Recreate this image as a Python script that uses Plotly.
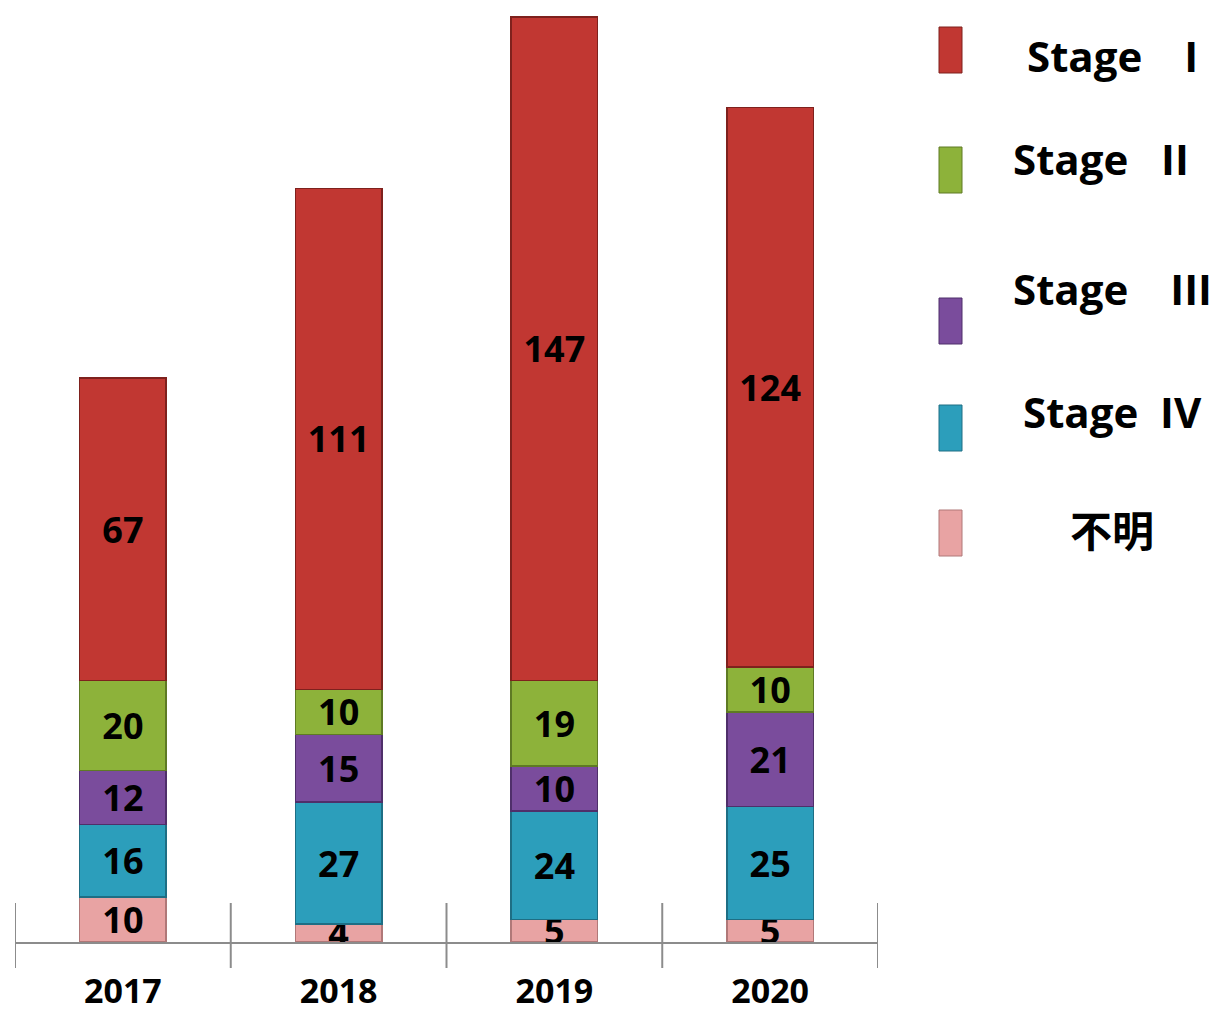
import plotly.graph_objects as go

years = ["2017", "2018", "2019", "2020"]
unknown = [10, 4, 5, 5]
stage4 = [16, 27, 24, 25]
stage3 = [12, 15, 10, 21]
stage2 = [20, 10, 19, 10]
stage1 = [67, 111, 147, 124]

series_names = ["不明", "Stage IV", "Stage III", "Stage II", "Stage I"]
series_values = [unknown, stage4, stage3, stage2, stage1]
legend_labels = {
    "Stage I": "Stage\u3000I",
    "Stage II": "Stage\u00a0\u00a0\u00a0II",
    "Stage III": "Stage\u3000III",
    "Stage IV": "Stage\u00a0\u00a0IV",
    "不明": "不明",
}
colors = ["#E8A3A3", "#2C9EBB", "#7A4C9C", "#8DB23A", "#C13732"]
edge_colors = ["#B07878", "#1E6E84", "#4F2F6A", "#5E7A24", "#7E211D"]

FONT = "Open Sans, DejaVu Sans, sans-serif"
CJK = "Noto Sans CJK JP, Noto Sans CJK SC, sans-serif"

W, H = 1218, 1012
PLOT_X0, PLOT_X1 = 15, 878
PLOT_Y0, BASE_Y = 10, 942
L = PLOT_X0
R = W - PLOT_X1
T = PLOT_Y0
B = H - BASE_Y
PX_PER_UNIT = 4.512
plot_h = H - T - B
plot_w = W - L - R
ymax = plot_h / PX_PER_UNIT

fig = go.Figure()
for name, vals, c, ec in zip(series_names, series_values, colors, edge_colors):
    fig.add_trace(go.Bar(
        x=years, y=vals, name=name,
        marker=dict(color=c, line=dict(color=ec, width=1.5)),
        text=vals, texttemplate="%{text}", textposition="inside",
        insidetextanchor="middle", textangle=0,
        textfont=dict(family=FONT, size=36, color="black", weight="bold"),
        showlegend=False,
    ))


def px_x(p):
    return (p - PLOT_X0) / plot_w


def px_y(q):
    return (BASE_Y - q) / plot_h


shapes = []
# category boundary ticks crossing the axis
for i in range(len(years) + 1):
    shapes.append(dict(type="line", xref="x", yref="paper",
                       x0=i - 0.5, x1=i - 0.5,
                       y0=px_y(968), y1=px_y(903),
                       line=dict(color="#8C8C8C", width=2)))

# legend (icons + labels), top to bottom
legend_order = ["Stage I", "Stage II", "Stage III", "Stage IV", "不明"]
icon_tops = [27, 147, 298, 405, 510]
text_pos = [(1025, 55), (1011, 158), (1011, 288), (1021, 412), (1068, 528)]
annotations = []
for lab, top, (tx, ty) in zip(legend_order, icon_tops, text_pos):
    idx = series_names.index(lab)
    shapes.append(dict(type="rect", xref="paper", yref="paper",
                       x0=px_x(939), x1=px_x(962), y0=px_y(top + 46), y1=px_y(top),
                       fillcolor=colors[idx], line=dict(color=edge_colors[idx], width=1)))
    fam = CJK if lab == "不明" else FONT
    annotations.append(dict(xref="paper", yref="paper", x=px_x(tx), y=px_y(ty),
                            xanchor="left", yanchor="middle", showarrow=False,
                            text=legend_labels[lab],
                            font=dict(family=fam, size=42, color="black", weight="bold")))

fig.update_layout(
    barmode="stack",
    bargap=0.6,
    width=W, height=H,
    margin=dict(l=L, r=R, t=T, b=B),
    paper_bgcolor="white", plot_bgcolor="white",
    uniformtext=dict(minsize=36, mode="show"),
    xaxis=dict(range=[-0.5, len(years) - 0.5], showgrid=False, automargin=False,
               showline=True, linecolor="#8C8C8C", linewidth=2,
               ticks="", ticklabelstandoff=18,
               tickfont=dict(family=FONT, size=34, color="black", weight="bold")),
    yaxis=dict(range=[0, ymax], visible=False, automargin=False),
    shapes=shapes,
    annotations=annotations,
)

fig.write_html(
    "out.html",
    config={"displayModeBar": False},
    post_script="document.body.style.margin='0';document.body.style.overflow='hidden';",
)
